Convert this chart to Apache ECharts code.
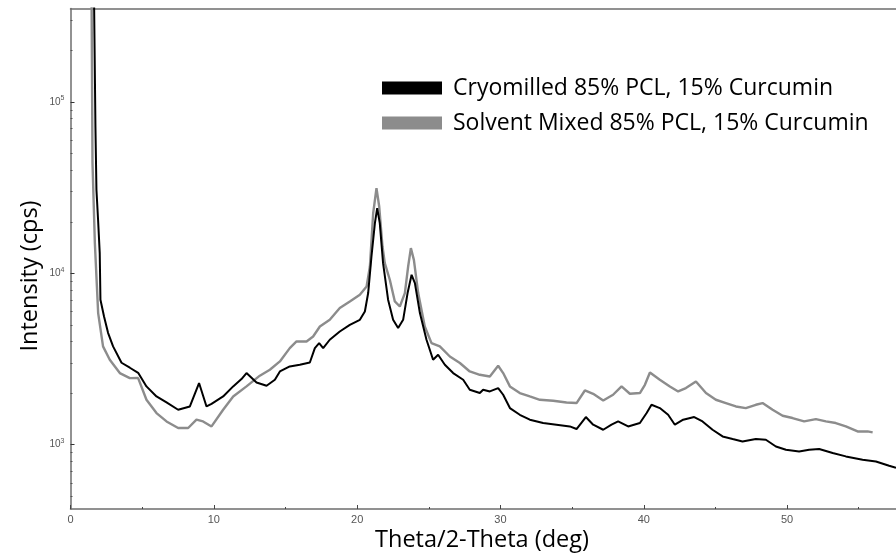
<!DOCTYPE html>
<html><head><meta charset="utf-8">
<script src="https://cdn.jsdelivr.net/npm/echarts@6/dist/echarts.min.js"></script>
<style>html,body{margin:0;padding:0;background:#fff}#c{width:896px;height:559px}</style>
</head><body><div id="c"></div>
<script>
// ---- data ----
const seriesNames = ['Cryomilled 85% PCL, 15% Curcumin', 'Solvent Mixed 85% PCL, 15% Curcumin'];

const cryoTheta = [1.62,1.74,1.81,1.93,2.04,2.09,2.34,2.62,2.97,3.56,4.14,4.72,5.30,6.00,6.70,7.51,8.33,8.97,9.49,9.84,
  10.65,11.35,11.93,12.28,12.98,13.68,14.26,14.61,15.30,16.00,16.70,17.05,17.35,17.63,18.09,18.79,19.49,20.19,20.54,20.77,
  21.00,21.24,21.40,21.58,21.81,22.16,22.51,22.86,23.21,23.52,23.80,24.03,24.38,24.84,25.30,25.65,26.12,26.70,27.40,27.86,
  28.56,28.79,29.26,29.84,30.19,30.66,31.35,32.05,32.98,33.91,34.84,35.31,35.96,36.47,37.17,37.75,38.21,38.91,39.73,40.20,
  40.54,41.12,41.70,42.17,42.75,43.52,44.10,44.80,45.50,46.20,46.89,47.82,48.52,49.22,49.92,50.84,51.54,52.24,53.18,54.10,
  55.27,56.20,57.12,57.60];
const cryoIntensity = [600000,71900,30750,20090,13130,7020,5610,4500,3750,3010,2815,2630,2190,1914,1765,1600,1673,2291,1673,1734,
  1914,2190,2417,2620,2309,2210,2395,2677,2864,2930,3020,3665,3920,3665,4100,4580,5010,5360,5995,7680,
  12550,19650,24040,19650,11480,7020,5360,4800,5360,7680,9815,8775,5865,4100,3133,3350,2930,2620,2395,2094,
  2003,2094,2047,2142,1958,1637,1496,1400,1339,1309,1279,1235,1451,1309,1223,1309,1368,1279,1339,1531,
  1711,1637,1496,1309,1400,1451,1368,1223,1118,1080,1045,1080,1070,977,935,914,935,944,895,855,
  818,799,754,734];

const solventTheta = [1.46,1.535,1.70,1.93,2.27,2.74,3.44,4.14,4.72,5.30,6.00,6.70,7.51,8.21,8.79,9.25,9.84,10.65,11.35,12.28,
  13.21,13.91,14.61,15.30,15.77,16.47,16.93,17.40,18.09,18.79,19.49,20.19,20.66,20.89,21.12,21.35,21.54,21.77,21.93,22.28,
  22.63,22.98,23.33,23.56,23.75,23.96,24.26,24.72,25.19,25.77,26.47,27.17,27.86,28.56,29.26,29.84,30.19,30.66,31.35,32.05,
  32.75,33.68,34.61,35.31,35.89,36.47,37.17,37.86,38.45,39.03,39.73,40.08,40.43,41.12,41.82,42.40,42.94,43.64,44.34,45.03,
  45.73,46.43,47.12,47.82,48.29,48.99,49.69,50.38,51.19,52.01,52.71,53.40,54.10,54.92,55.62,55.97];
const solventIntensity = [600000,44200,15000,5865,3750,3133,2620,2449,2450,1831,1531,1368,1252,1252,1400,1368,1279,1600,1914,2190,
  2530,2739,3063,3665,4006,4006,4285,4900,5360,6280,6860,7500,8390,10970,22480,31460,24570,14350,11480,9180,
  6860,6410,7680,10970,14050,12000,7680,4900,3920,3750,3273,2999,2677,2560,2503,2890,2620,2190,2003,1914,
  1830,1806,1765,1751,2074,1984,1813,1958,2190,1984,2003,2239,2641,2395,2190,2047,2142,2340,2003,1831,
  1751,1673,1637,1711,1751,1600,1476,1432,1368,1412,1368,1339,1279,1196,1196,1180];

const xMajorTicks = [0, 10, 20, 30, 40, 50];
const xMinorTicks = [5, 15, 25, 35, 45, 55];
const yMajorTicks = [1000, 10000, 100000];
const yMinorTicks = [500,600,700,800,900,2000,3000,4000,5000,6000,7000,8000,9000,
  20000,30000,40000,50000,60000,70000,80000,90000,200000,300000];
const xTitle = 'Theta/2-Theta (deg)';
const yTitle = 'Intensity (cps)';

// ---- chart ----
const X_MIN = 0, X_MAX = 57.6, Y_MIN = 421.7, Y_MAX = 351600;
const AXIS_GREY = '#6e6e6e';
const pairs = (xs, ys) => xs.map((x, i) => [x, ys[i]]);

const chart = echarts.init(document.getElementById('c'), null, {renderer: 'canvas'});
chart.setOption({
  animation: false,
  backgroundColor: '#ffffff',
  grid: {left: 70.5, top: 8.5, right: 0, bottom: 50, containLabel: false},
  legend: {
    orient: 'vertical', left: 382, top: 75, padding: 0,
    itemWidth: 60, itemHeight: 13, itemGap: 9, icon: 'rect',
    data: seriesNames,
    textStyle: {fontSize: 23, fontFamily: 'Open Sans', color: '#000', lineHeight: 26, padding: [0, 0, 0, 6]}
  },
  xAxis: [
    {type: 'value', min: X_MIN, max: X_MAX, position: 'bottom',
     axisLine: {onZero: false, lineStyle: {color: AXIS_GREY, width: 1.5}},
     axisTick: {inside: true, length: 4, customValues: xMajorTicks, lineStyle: {color: '#444', width: 1}},
     axisLabel: {customValues: xMajorTicks, margin: 5, fontSize: 11, fontFamily: 'Liberation Sans', color: '#555'},
     splitLine: {show: false}},
    {type: 'value', min: X_MIN, max: X_MAX, position: 'bottom',
     axisLine: {show: false},
     axisTick: {inside: true, length: 2, customValues: xMinorTicks, lineStyle: {color: '#444', width: 1}},
     axisLabel: {show: false}, splitLine: {show: false}},
    {type: 'value', min: X_MIN, max: X_MAX, position: 'top',
     axisLine: {onZero: false, lineStyle: {color: AXIS_GREY, width: 1.5}},
     axisTick: {show: false}, axisLabel: {show: false}, splitLine: {show: false}}
  ],
  yAxis: [
    {type: 'log', logBase: 10, min: Y_MIN, max: Y_MAX, position: 'left',
     axisLine: {onZero: false, lineStyle: {color: AXIS_GREY, width: 1.5}},
     axisTick: {inside: true, length: 4, customValues: yMajorTicks, lineStyle: {color: '#333', width: 1}},
     axisLabel: {customValues: yMajorTicks, margin: 6,
       formatter: v => '{b|10}{s|' + Math.round(Math.log10(v)) + '}',
       rich: {b: {fontSize: 10, fontFamily: 'Liberation Sans', color: '#555'},
              s: {fontSize: 7, fontFamily: 'Liberation Sans', color: '#555', padding: [0, 0, 7, 0]}}},
     splitLine: {show: false}},
    {type: 'log', logBase: 10, min: Y_MIN, max: Y_MAX, position: 'left',
     axisLine: {show: false},
     axisTick: {inside: true, length: 2, customValues: yMinorTicks, lineStyle: {color: '#555', width: 1}},
     axisLabel: {show: false}, splitLine: {show: false}}
  ],
  graphic: [
    {type: 'text', x: 482, y: 540, silent: true,
     style: {text: xTitle, align: 'center', verticalAlign: 'middle', fontSize: 23.5, fontFamily: 'Open Sans', fill: '#000'}},
    {type: 'text', x: 30, y: 276, rotation: Math.PI / 2, silent: true,
     style: {text: yTitle, align: 'center', verticalAlign: 'middle', fontSize: 23.5, fontFamily: 'Open Sans', fill: '#000'}}
  ],
  series: [
    {name: seriesNames[1], type: 'line', xAxisIndex: 0, yAxisIndex: 0, data: pairs(solventTheta, solventIntensity),
     showSymbol: false, symbol: 'none', clip: true, color: '#8c8c8c', lineStyle: {color: '#8c8c8c', width: 2.4}},
    {name: seriesNames[0], type: 'line', xAxisIndex: 0, yAxisIndex: 0, data: pairs(cryoTheta, cryoIntensity),
     showSymbol: false, symbol: 'none', clip: true, color: '#000000', lineStyle: {color: '#000000', width: 2}}
  ]
});
</script></body></html>
